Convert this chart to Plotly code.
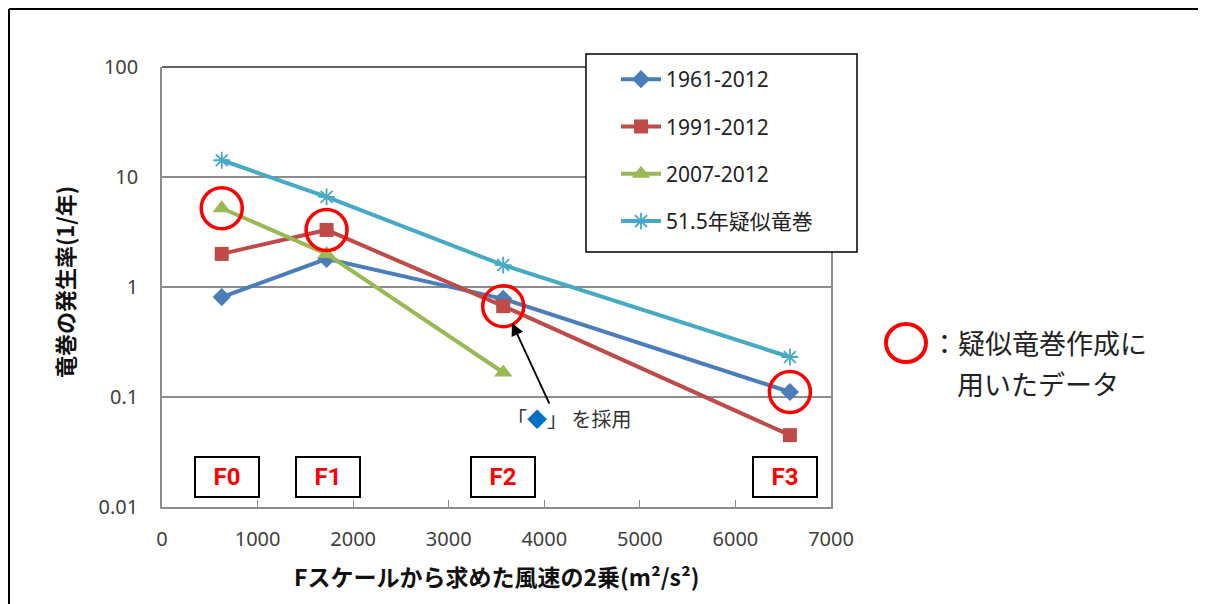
import plotly.graph_objects as go

# ---------------- data ----------------
x_wind2 = [625, 1722, 3570, 6570]          # F0..F3 wind speed squared (m2/s2)
f_labels = ["F0", "F1", "F2", "F3"]
f_box_x = [678, 1738, 3573, 6515]            # label box centres (data x)

s_1961 = [0.81, 1.8, 0.78, 0.111]
s_1991 = [2.0, 3.3, 0.67, 0.045]
s_2007 = [5.2, 2.0, 0.167]
s_pseudo = [14.2, 6.6, 1.58, 0.231]

names = ["1961-2012", "1991-2012", "2007-2012", "51.5年疑似竜巻"]
x_ticks = [0, 1000, 2000, 3000, 4000, 5000, 6000, 7000]
y_ticks = [0.01, 0.1, 1, 10, 100]
y_ticktext = ["0.01", "0.1", "1", "10", "100"]

# points used to build the pseudo tornado (series index, point index)
circled = [(2, 0), (1, 1), (1, 2), (0, 3)]

# ---------------- layout geometry (window pixel coords) ----------------
OFF = 8                      # page body margin
W, H = 1206 - OFF, 604 - OFF  # figure size
L, R, T, B = 162, 831, 67, 507
PW, PH = R - L, B - T


def px2x(px):
    return (px - L) / PW


def py2y(py):
    return (B - py) / PH


colors = ["#4A7EBB", "#BE4B48", "#98B954", "#46AAC5"]
symbols = ["diamond", "square", "triangle-up", "asterisk-open"]
msizes = [14, 14, 16, 14]
series = [s_1961, s_1991, s_2007, s_pseudo]

fig = go.Figure()
for i, (ys, nm) in enumerate(zip(series, names)):
    xs = x_wind2[:len(ys)]
    marker = dict(symbol=symbols[i], size=msizes[i], color=colors[i])
    if symbols[i] == "asterisk-open":
        marker["line"] = dict(color="#4BACC6", width=1.8)
    fig.add_trace(go.Scatter(
        x=xs, y=ys, name=nm, mode="lines+markers",
        line=dict(color=colors[i], width=4),
        marker=marker, legendgroup=f"g{i}",
    ))

# red circles around the points used for the pseudo tornado
fig.add_trace(go.Scatter(
    x=[x_wind2[pi] for si, pi in circled],
    y=[series[si][pi] for si, pi in circled],
    mode="markers", showlegend=False, hoverinfo="skip",
    marker=dict(symbol="circle-open", size=41,
                line=dict(color="#FF0000", width=3.5), color="#FF0000"),
))

shapes = []
# top border of plot area (dark)
shapes.append(dict(type="line", xref="paper", yref="paper", x0=0, x1=1,
                   y0=1, y1=1, line=dict(color="#303030", width=1.5)))
# legend box (covers gridlines)
shapes.append(dict(type="rect", xref="paper", yref="paper",
                   x0=px2x(586), x1=px2x(857), y0=py2y(252), y1=py2y(54),
                   line=dict(color="black", width=1.5), fillcolor="white",
                   layer="above"))
# outer frame (three visible sides)
frame = dict(color="black", width=2)
shapes.append(dict(type="line", xref="paper", yref="paper",
                   x0=px2x(9), x1=px2x(9), y0=py2y(9), y1=py2y(604), line=frame))
shapes.append(dict(type="line", xref="paper", yref="paper",
                   x0=px2x(9), x1=px2x(1202), y0=py2y(9), y1=py2y(9), line=frame))
shapes.append(dict(type="line", xref="paper", yref="paper",
                   x0=px2x(1202), x1=px2x(1202), y0=py2y(9), y1=py2y(604), line=frame))
# legend-style circle on the right
shapes.append(dict(type="circle", xref="paper", yref="paper",
                   xsizemode="pixel", ysizemode="pixel",
                   xanchor=px2x(906), yanchor=py2y(343),
                   x0=-20, x1=20, y0=-19, y1=19,
                   line=dict(color="#FF0000", width=4)))

annotations = []
# F-scale boxes
for fx, fl in zip(f_box_x, f_labels):
    annotations.append(dict(
        x=fx, y=py2y(477), xref="x", yref="paper",
        text=f"<b>{fl}</b>", showarrow=False,
        font=dict(family="Roboto, Noto Sans, sans-serif", size=24, color="#FF0000"),
        bgcolor="white", bordercolor="black", borderwidth=2, borderpad=0,
        width=62, height=38, xanchor="center", yanchor="middle",
    ))
# arrow annotation
annotations.append(dict(
    x=px2x(512), y=py2y(323), xref="paper", yref="paper",
    ax=38, ay=82,
    text="", showarrow=True, arrowhead=2, arrowsize=1.4, arrowwidth=1.8,
    arrowcolor="black", standoff=0,
))
annotations.append(dict(
    x=px2x(505), y=py2y(418), xref="paper", yref="paper",
    text='「<span style="color:#0070C0">◆</span>」 を採用',
    showarrow=False, xanchor="left", yanchor="middle",
    font=dict(family="Noto Sans CJK JP", size=20, color="#333333"),
))
# right note
annotations.append(dict(
    x=px2x(929), y=py2y(343), xref="paper", yref="paper",
    text="：疑似竜巻作成に", showarrow=False, xanchor="left", yanchor="middle",
    font=dict(family="Noto Sans CJK JP", size=27, color="#222222"),
))
annotations.append(dict(
    x=px2x(955), y=py2y(383), xref="paper", yref="paper",
    text="用いたデータ", showarrow=False, xanchor="left", yanchor="middle",
    font=dict(family="Noto Sans CJK JP", size=27, color="#222222"),
))
# axis titles
annotations.append(dict(
    x=px2x(496), y=py2y(576), xref="paper", yref="paper",
    text="<b>Fスケールから求めた風速の2乗(m²/s²)</b>", showarrow=False,
    xanchor="center", yanchor="middle",
    font=dict(family="Noto Sans CJK JP", size=23, color="#111111"),
))
annotations.append(dict(
    x=px2x(64), y=py2y(282), xref="paper", yref="paper",
    text="<b>竜巻の発生率(1/年)</b>", showarrow=False, textangle=-90,
    xanchor="center", yanchor="middle",
    font=dict(family="Noto Sans CJK JP", size=22, color="#111111"),
))

fig.update_layout(
    width=W, height=H,
    margin=dict(l=L - OFF, r=W - (R - OFF), t=T - OFF, b=H - (B - OFF), pad=0),
    paper_bgcolor="white", plot_bgcolor="rgba(0,0,0,0)",
    showlegend=True,
    legend=dict(
        x=px2x(616), y=py2y(59), xanchor="left", yanchor="top",
        bgcolor="rgba(0,0,0,0)", borderwidth=0,
        font=dict(family="Noto Sans, Noto Sans CJK JP, sans-serif", size=21, color="#222222"),
        tracegroupgap=17, traceorder="grouped", itemwidth=40,
    ),
    xaxis=dict(
        range=[0, 7000], tickvals=x_ticks, ticks="inside", ticklen=7,
        tickcolor="#8c8c8c", tickwidth=1.2,
        showline=True, linecolor="#8c8c8c", linewidth=1.5,
        showgrid=False, zeroline=False,
        tickfont=dict(family="Noto Sans, sans-serif", size=20, color="#404040"),
        ticklabelstandoff=13,
    ),
    yaxis=dict(
        type="log", range=[-2, 2], tickvals=y_ticks, ticktext=y_ticktext,
        showline=True, linecolor="#8c8c8c", linewidth=1.5, mirror=True,
        showgrid=True, gridcolor="#8c8c8c", gridwidth=1.5,
        zeroline=False, ticks="",
        tickfont=dict(family="Noto Sans, sans-serif", size=20, color="#404040"),
        ticklabelstandoff=18,
    ),
    shapes=shapes,
    annotations=annotations,
)

fig.write_html("out.html")
